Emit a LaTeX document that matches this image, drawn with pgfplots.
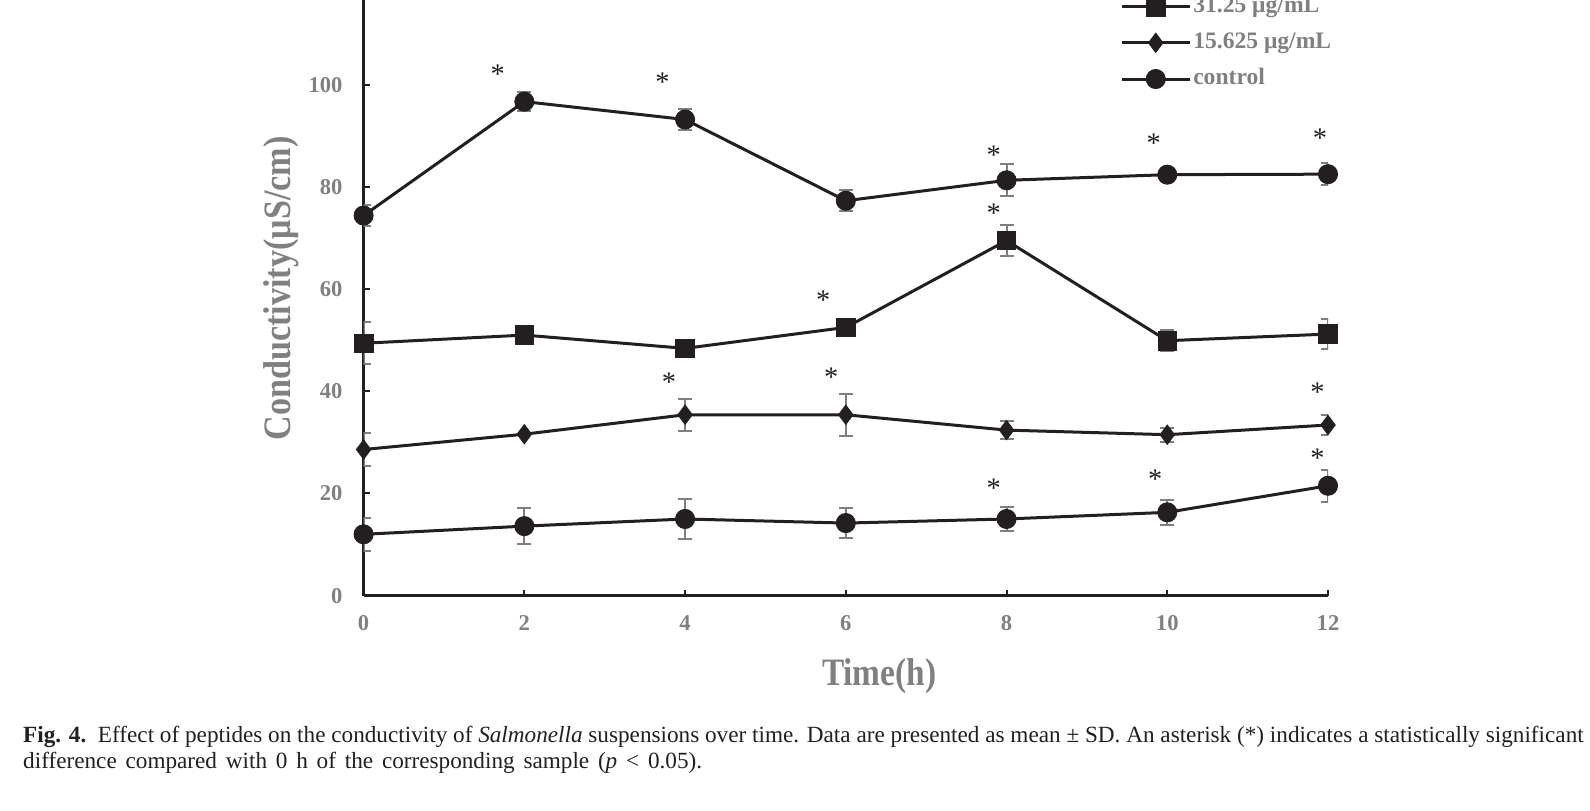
\documentclass[border=0pt]{standalone}
\usepackage{fontspec}
\setmainfont{Liberation Serif}
\usepackage{pgfplots}
\pgfplotsset{compat=1.18}
\usepackage{pgfplotstable}
\definecolor{ink}{HTML}{231F20}
\definecolor{labgray}{HTML}{808080}
\definecolor{errgray}{HTML}{7F7F7F}
\tikzset{ast/.style={font=\fontsize{14.2}{14}\selectfont, text=ink, inner sep=0pt, yshift=-1.7pt}}

\pgfplotstableread{
x y e
0 74.4 2.1
2 96.7 1.9
4 93.2 2.0
6 77.3 2.1
8 81.3 3.1
10 82.4 0.9
12 82.5 2.2
}\highdata
\pgfplotstableread{
x y e
0 49.4 4.1
2 51.0 0.8
4 48.4 0.8
6 52.5 0.8
8 69.5 3.0
10 49.9 2.0
12 51.2 3.0
}\middata
\pgfplotstableread{
x y e
0 28.6 3.2
2 31.6 0
4 35.4 3.1
6 35.4 4.1
8 32.4 1.7
10 31.5 1.4
12 33.4 2.0
}\lowdata
\pgfplotstableread{
x y e
0 12.0 3.2
2 13.6 3.5
4 15.0 3.9
6 14.2 3.0
8 15.0 2.4
10 16.3 2.4
12 21.5 3.1
}\ctrldata

\begin{document}
\begin{tikzpicture}
\useasboundingbox (0pt,0pt) rectangle (795pt,-405pt);
\clip (0pt,0pt) rectangle (795pt,-405pt);
\begin{axis}[
  at={(181.8pt,-297.8pt)}, anchor=south west,
  scale only axis, width=482.2pt, height=306.5pt,
  xmin=0, xmax=12, ymin=0, ymax=120,
  axis x line*=bottom, axis y line*=left,
  axis line style={ink, line width=1.2pt},
  xtick={0,2,...,12}, ytick={0,20,...,100},
  tick align=inside, major tick length=3pt,
  tick style={ink, line width=1pt},
  /pgf/number format/assume math mode=true,
  ticklabel style={font=\bfseries\fontsize{11.3}{13}\selectfont, text=labgray},
  yticklabel style={xshift=-7pt},
  xticklabel style={yshift=-6.5pt},
  every axis plot/.append style={ink, line width=1.5pt},
  errs/.style={error bars/.cd, y dir=both, y explicit,
    error bar style={errgray, line width=1pt},
    error mark options={rotate=90, errgray, mark size=3.5pt, line width=1pt}},
  legend cell align=left,
  legend image code/.code={\draw[mark repeat=2, mark phase=2, #1] plot coordinates {(0pt,0pt) (17pt,0pt) (34pt,0pt)};},
  legend style={draw=none, fill=none, at={(axis cs:9.41,98.6)}, anchor=south west,
    inner sep=0pt, row sep=5.6pt,
    font=\bfseries\fontsize{11.8}{13}\selectfont,
    nodes={inner sep=1pt, text height=8pt, text depth=2.5pt, text=labgray}},
]
\addplot[mark=*, mark size=4.8pt, mark options={solid, fill=ink, draw=ink, line width=0.4pt}, errs]
  table[x=x, y=y, y error=e] {\highdata};
\addlegendentry{62.5 μg/mL}
\addplot[mark=square*, mark size=4.65pt, mark options={solid, fill=ink, draw=ink, line width=0.4pt}, errs]
  table[x=x, y=y, y error=e] {\middata};
\addlegendentry{31.25 μg/mL}
\addplot[mark=diamond*, mark size=4.85pt, mark options={solid, fill=ink, draw=ink, line width=0.4pt}, errs]
  table[x=x, y=y, y error=e] {\lowdata};
\addlegendentry{15.625 μg/mL}
\addplot[mark=*, mark size=4.8pt, mark options={solid, fill=ink, draw=ink, line width=0.4pt}, errs]
  table[x=x, y=y, y error=e] {\ctrldata};
\addlegendentry{control}

\node[ast] at (axis cs:1.67,102.8) {*};
\node[ast] at (axis cs:3.72,101.2) {*};
\node[ast] at (axis cs:7.84,86.9) {*};
\node[ast] at (axis cs:9.83,89.3) {*};
\node[ast] at (axis cs:11.9,90.3) {*};
\node[ast] at (axis cs:5.72,58.4) {*};
\node[ast] at (axis cs:7.84,75.5) {*};
\node[ast] at (axis cs:3.80,42.5) {*};
\node[ast] at (axis cs:5.82,43.5) {*};
\node[ast] at (axis cs:11.87,40.4) {*};
\node[ast] at (axis cs:7.84,21.7) {*};
\node[ast] at (axis cs:9.85,23.5) {*};
\node[ast] at (axis cs:11.87,27.6) {*};
\end{axis}

\node[rotate=90, xscale=.88, font=\bfseries\fontsize{19.4}{19}\selectfont, text=labgray, inner sep=0pt]
  at (140.6pt,-144.2pt) {Conductivity(μS/cm)};
\node[xscale=.86, font=\bfseries\fontsize{19.4}{19}\selectfont, text=labgray, inner sep=0pt]
  at (439.6pt,-338.1pt) {Time(h)};

\node[anchor=base west, inner sep=0pt, font=\fontsize{11.6}{13.5}\selectfont, text=ink]
  at (11.4pt,-371.2pt) {\textbf{Fig. 4.}\hspace{0.5em}Effect of peptides on the conductivity of \textit{Salmonella} suspensions over time. Data are presented as mean ± SD. An asterisk (*) indicates a statistically significant};
\node[anchor=base west, inner sep=0pt, font=\fontsize{11.6}{13.5}\selectfont, text=ink]
  at (11.4pt,-384.2pt) {\spaceskip=4.4pt\relax difference compared with 0 h of the corresponding sample (\textit{p} < 0.05).};
\end{tikzpicture}
\end{document}
